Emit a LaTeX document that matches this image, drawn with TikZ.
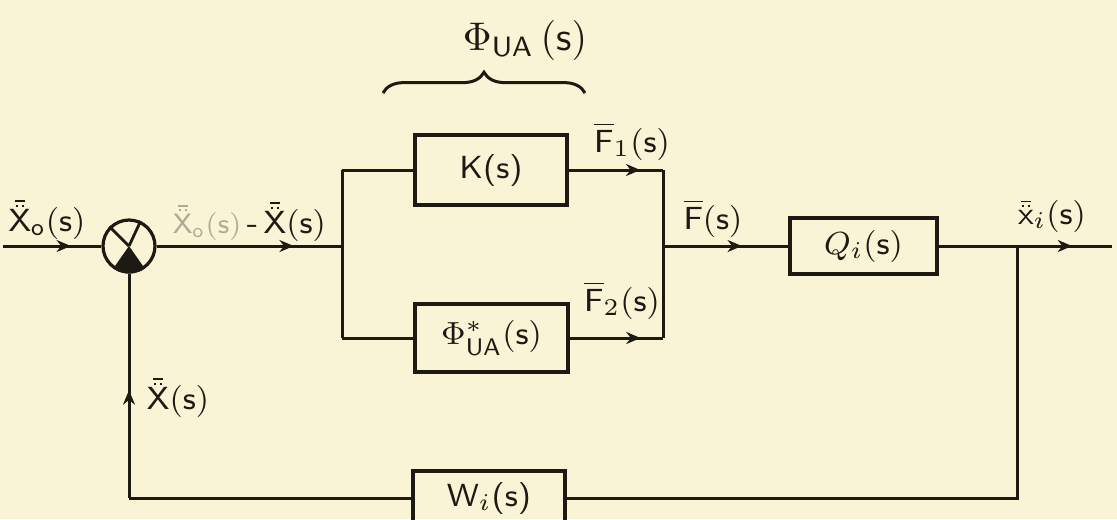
\documentclass[tikz,border=0pt]{standalone}
\usetikzlibrary{arrows.meta,decorations.markings,decorations.pathreplacing}
\definecolor{paper}{RGB}{250,244,214}
\definecolor{ink}{RGB}{28,26,18}
\definecolor{faint}{RGB}{175,170,150}
\newcommand{\dbx}[1]{\mathord{\vbox{\offinterlineskip\halign{\hfil##\hfil\cr\rule{2.4pt}{0.45pt}\cr\noalign{\kern0.6pt}\rule{0.55pt}{0.55pt}\kern0.9pt\rule{0.55pt}{0.55pt}\cr\noalign{\kern0.7pt}$#1$\cr}}}}
\begin{document}
\begin{tikzpicture}[x=0.25pt,y=-0.25pt,
  wire/.style={draw=ink,line width=0.75pt},
  box/.style={draw=ink,line width=0.85pt,inner sep=0pt,font=\footnotesize\sffamily,text=ink},
  lbl/.style={font=\footnotesize\sffamily,text=ink,inner sep=0pt},
  arrowat/.style={postaction={decorate},decoration={markings,mark=at position #1 with {\arrow[ink]{Stealth[length=3.6pt,width=3pt]}}}}]
\useasboundingbox (0,0) rectangle (1117,519);
\fill[paper] (0,0) rectangle (1117,519);
\clip (0,0) rectangle (1117,519);

% blocks
\node[circle,draw=ink,line width=0.8pt,minimum size=13pt,inner sep=0pt] (S) at (129,246) {};
\node[box,minimum width=38pt,minimum height=17.5pt] (K) at (491,170) {K(s)};
\node[box,minimum width=38.25pt,minimum height=17pt] (P) at (491.5,338) {$\Phi^{*}_{\mathsf{UA}}(\mathsf{s})$};
\node[box,minimum width=36.75pt,minimum height=14pt] (Q) at (863.5,246) {$Q_{i}(\mathsf{s})$};
\node[box,minimum width=38pt,minimum height=13.5pt] (W) at (489,498) {W$_{i}$(s)};

% summing junction marks
\draw[ink,line width=0.7pt] (S.135) -- (S.center);
\draw[ink,line width=0.7pt] (S.65) -- (S.center);
\fill[ink] (S.center) -- (S.-125) -- (S.-110) -- (S.-95) -- (S.-80) -- (S.-65) -- (S.-55) -- cycle;

% coordinates
\coordinate (in) at (3,246);
\coordinate (split) at (342,246);
\coordinate (su) at (342,170);
\coordinate (sd) at (342,338);
\coordinate (ju) at (663,170);
\coordinate (jd) at (663,338);
\coordinate (J) at (663,246);
\coordinate (B) at (1017,246);
\coordinate (out) at (1112,246);
\coordinate (Bd) at (1017,498);
\coordinate (Fd) at (129,498);
\coordinate (bl) at (383,93);
\coordinate (br) at (585,93);

% connectors
\draw[wire,arrowat=0.69] (in) -- (S);
\draw[wire,arrowat=0.74] (S) -- (split);
\draw[wire] (su) -- (sd);
\draw[wire] (su) -- (K);
\draw[wire] (sd) -- (P);
\draw[wire,arrowat=0.76] (K) -- (ju);
\draw[wire,arrowat=0.76] (P) -- (jd);
\draw[wire] (ju) -- (jd);
\draw[wire,arrowat=0.63] (J) -- (Q);
\draw[wire,arrowat=0.77] (Q) -- (out);
\draw[wire] (B) -- (Bd) -- (W);
\draw[wire] (W) -- (Fd);
\draw[wire,arrowat=0.48] (Fd) -- (S);
\draw[wire,decorate,decoration={brace,amplitude=5.2pt}] (bl) -- (br);

% labels
\node[lbl] (lin) at (47,220) {$\dbx{\mathsf{X}}_{\mathsf{o}}(\mathsf{s})$};
\node[lbl,anchor=west] (lerr) at (172,222) {\textcolor{faint}{\scriptsize$\dbx{\mathsf{X}}_{\mathsf{o}}(\mathsf{s})$}\,-\,$\dbx{\mathsf{X}}(\mathsf{s})$};
\node[lbl] (lf1) at (632,141) {$\overline{\mathsf{F}}_{1}(\mathsf{s})$};
\node[lbl] (lf2) at (622,300) {$\overline{\mathsf{F}}_{2}(\mathsf{s})$};
\node[lbl] (lf) at (713,218) {$\overline{\mathsf{F}}(\mathsf{s})$};
\node[lbl] (lxi) at (1052,216) {$\dbx{\mathsf{x}}_{i}(\mathsf{s})$};
\node[lbl] (lfb) at (178,398) {$\dbx{\mathsf{X}}(\mathsf{s})$};
\node[lbl,font=\normalsize\sffamily] (phi) at (525,40) {$\Phi_{\mathsf{UA}}\,(\mathsf{s})$};
\end{tikzpicture}
\end{document}
